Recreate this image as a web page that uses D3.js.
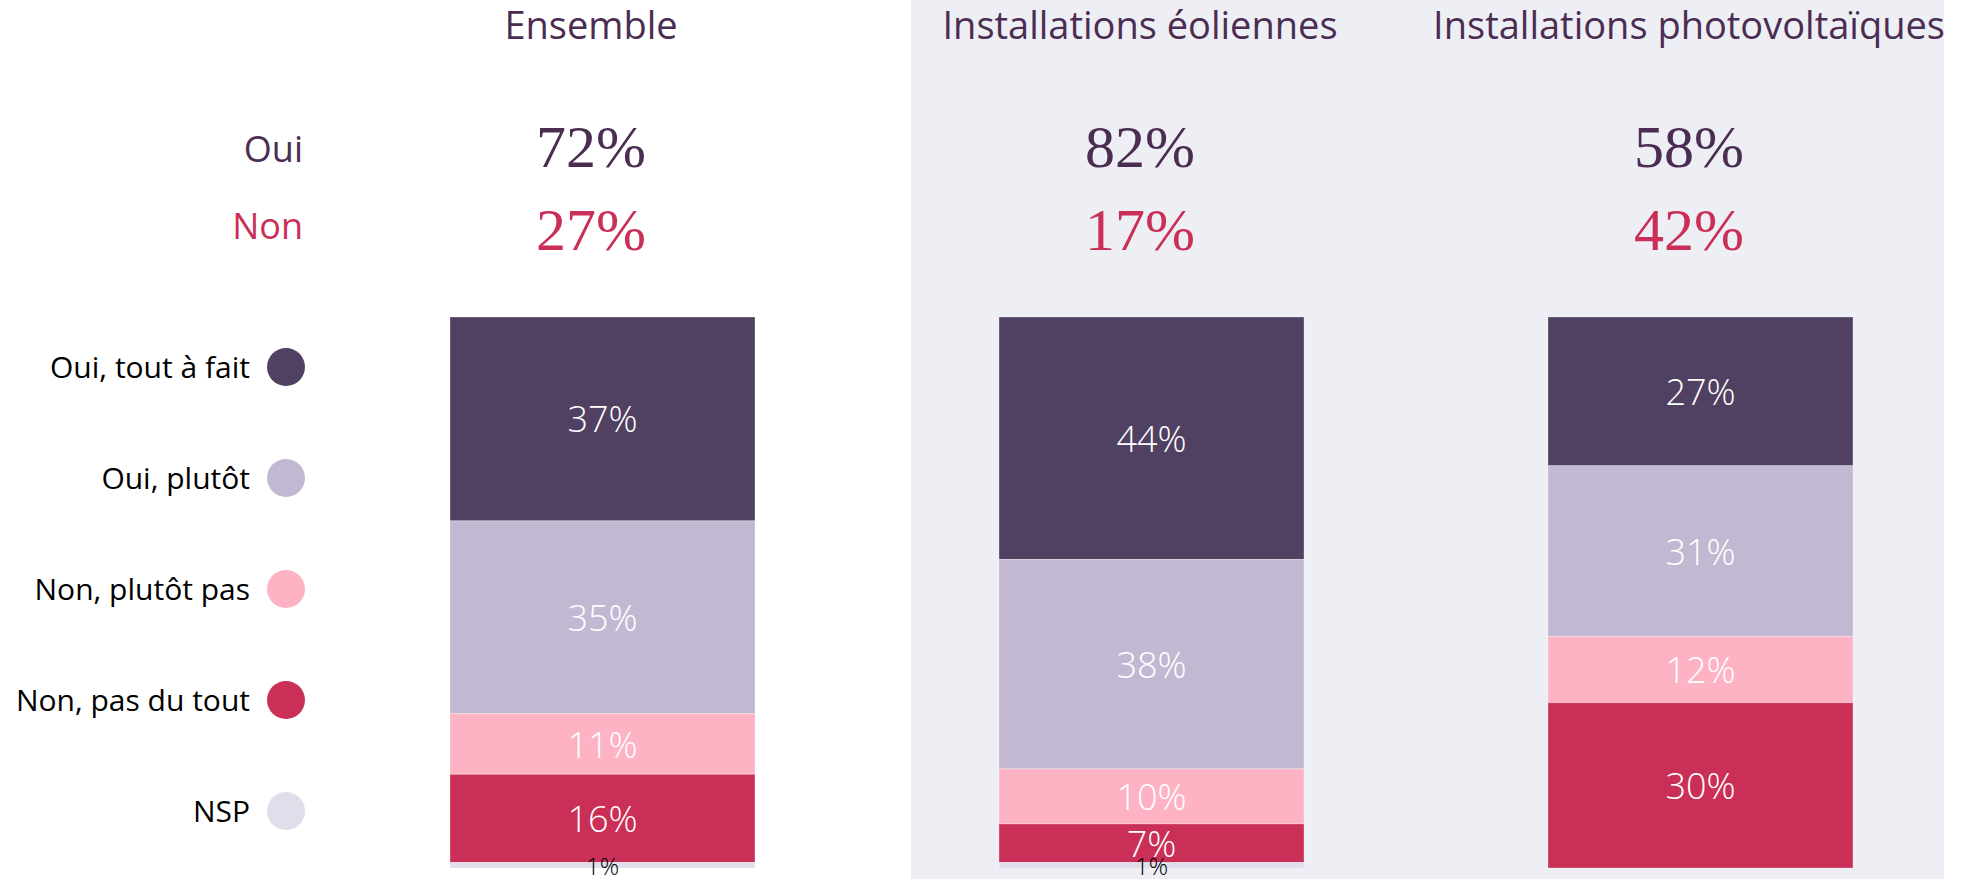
<!DOCTYPE html>
<html>
<head>
  <meta charset="utf-8">
  <title>Oui / Non</title>
  <script src="https://cdn.jsdelivr.net/npm/d3@7"></script>
  <style>
    body { margin: 0; background: #fff; }
    svg { display: block; }
    text { font-family: "Open Sans", "Noto Sans", sans-serif; }
    .big { font-family: "Liberation Serif", "DejaVu Serif", serif; }
  </style>
</head>
<body>
<svg width="1975" height="879"></svg>
<script>

// data
const columns = ['Ensemble', 'Installations éoliennes', 'Installations photovoltaïques'];
const series = ['Oui, tout à fait', 'Oui, plutôt', 'Non, plutôt pas', 'Non, pas du tout', 'NSP'];
const toutAFait   = [37, 44, 27];
const plutot      = [35, 38, 31];
const plutotPas   = [11, 10, 12];
const pasDuTout   = [16, 7, 30];
const nsp         = [1, 1, 0];
const ouiTotal    = [72, 82, 58];
const nonTotal    = [27, 17, 42];

const colors = ['#504163', '#c3b8d1', '#feb3c4', '#ca2f57', '#dedfeb'];
const purple = '#4b2d52';
const red = '#ca2f57';

const rows = columns.map((c, i) => ({
  col: c,
  [series[0]]: toutAFait[i],
  [series[1]]: plutot[i],
  [series[2]]: plutotPas[i],
  [series[3]]: pasDuTout[i],
  [series[4]]: nsp[i]
}));

let svg = d3.select('svg');

let x = d3.scalePoint().domain(columns).range([591, 1689]);
let y = d3.scaleLinear().domain([0, 100]).range([317, 868]);
let color = d3.scaleOrdinal().domain(series).range(colors);
const barW = 305;
const barOff = -141;

// grey panel behind the two last columns
svg.append('rect')
  .attr('x', x(columns[1]) - 229)
  .attr('y', 0)
  .attr('width', x(columns[2]) + 255 - (x(columns[1]) - 229))
  .attr('height', 879)
  .style('fill', '#eeeff5');

// column titles
svg.selectAll('.title').data(columns).join('text')
  .attr('class', 'title')
  .attr('x', d => x(d))
  .attr('y', 39)
  .attr('text-anchor', 'middle')
  .style('font-size', '38px')
  .style('fill', purple)
  .text(d => d);

// Oui / Non
svg.append('text').attr('x', 303).attr('y', 162).attr('text-anchor', 'end')
  .style('font-size', '36px').style('fill', purple).text('Oui');
svg.append('text').attr('x', 303).attr('y', 239).attr('text-anchor', 'end')
  .style('font-size', '36px').style('fill', red).text('Non');

svg.selectAll('.oui').data(ouiTotal).join('text')
  .attr('class', 'big')
  .attr('x', (d, i) => x(columns[i]))
  .attr('y', 167)
  .attr('text-anchor', 'middle')
  .style('font-size', '60px')
  .style('fill', purple)
  .text(d => d + '%');

svg.selectAll('.non').data(nonTotal).join('text')
  .attr('class', 'big')
  .attr('x', (d, i) => x(columns[i]))
  .attr('y', 250)
  .attr('text-anchor', 'middle')
  .style('font-size', '60px')
  .style('fill', red)
  .text(d => d + '%');

// stacked bars
let stack = d3.stack().keys(series)(rows);

let layer = svg.selectAll('.layer').data(stack).join('g')
  .attr('class', 'layer')
  .style('fill', d => color(d.key));

layer.selectAll('rect').data(d => d).join('rect')
  .attr('x', d => x(d.data.col) + barOff)
  .attr('y', d => y(d[0]))
  .attr('width', barW)
  .attr('height', d => y(d[1]) - y(d[0]))
  .style('stroke', '#ffffff')
  .style('stroke-opacity', 0.3)
  .style('stroke-width', 1);

layer.selectAll('text').data(d => d.map(v => Object.assign(v, { key: d.key }))).join('text')
  .filter(d => d[1] - d[0] > 0)
  .attr('x', d => x(d.data.col) + barOff + barW / 2)
  .attr('y', d => (y(d[0]) + y(d[1])) / 2)
  .attr('text-anchor', 'middle')
  .attr('dominant-baseline', 'central')
  .style('font-size', d => d.key === 'NSP' ? '24px' : '36px')
  .style('font-weight', 300)
  .style('fill', d => d.key === 'NSP' ? '#000' : '#fff')
  .text(d => (d[1] - d[0]) + '%');

// legend
let ly = d3.scalePoint().domain(series).range([367, 811]);

svg.selectAll('.leg-dot').data(series).join('circle')
  .attr('cx', 286)
  .attr('cy', d => ly(d))
  .attr('r', 19)
  .style('fill', d => color(d));

svg.selectAll('.leg-txt').data(series).join('text')
  .attr('x', 250)
  .attr('y', d => ly(d))
  .attr('dy', '0.35em')
  .attr('text-anchor', 'end')
  .style('font-size', '30px')
  .style('fill', '#000')
  .text(d => d);

</script>
</body>
</html>
